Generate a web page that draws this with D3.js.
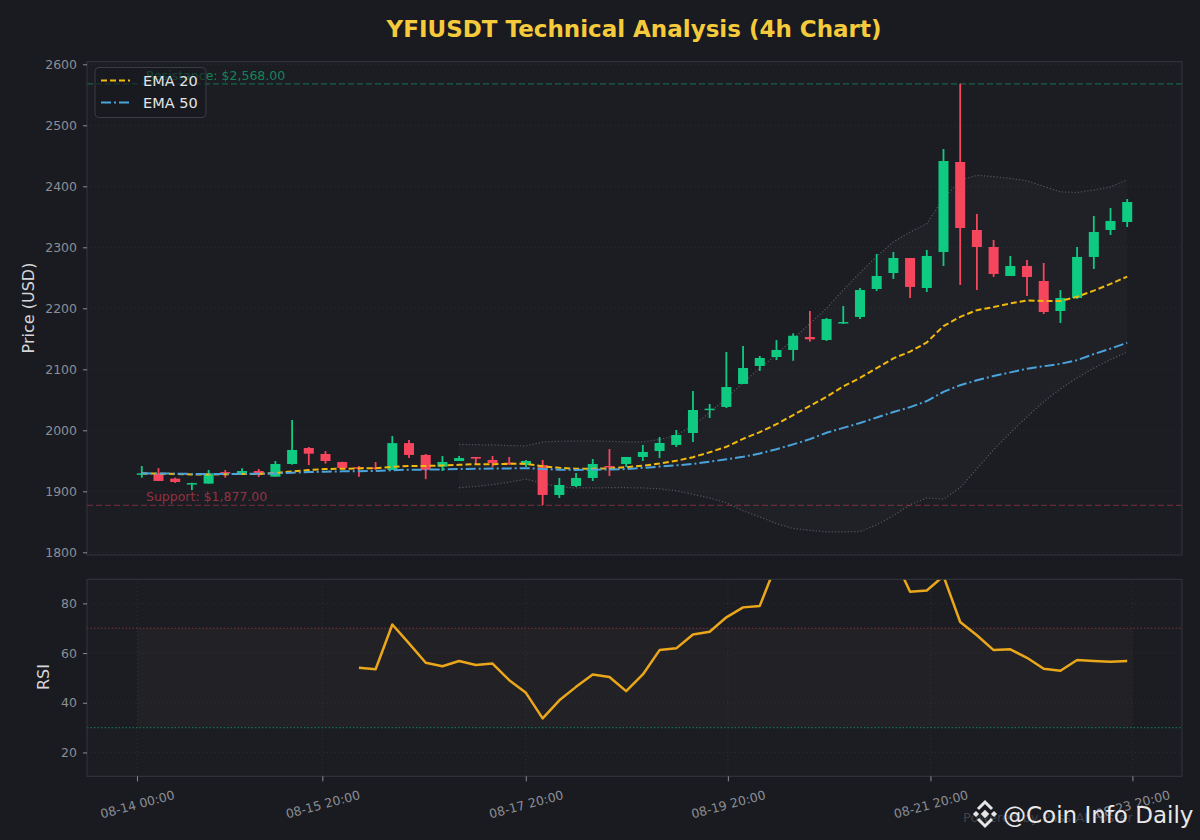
<!DOCTYPE html>
<html>
<head>
<meta charset="utf-8">
<script src="https://cdn.jsdelivr.net/npm/d3@7"></script>
<style>
  body { margin: 0; background: #1a1b20; }
  svg { display: block; font-family: "DejaVu Sans", sans-serif; }
</style>
</head>
<body>
<script>
// candle data (4h)
const opens  = [1929, 1929.5, 1920.8, 1912.5, 1912.6, 1931.5, 1926.8, 1933.3, 1924, 1944.8,
                1971, 1961.2, 1948, 1939.5, 1939, 1935, 1979, 1959.6, 1940.4, 1949.7,
                1956.3, 1951.4, 1947, 1943.2, 1943, 1894, 1908.7, 1921.9, 1941.5, 1944.8,
                1956.3, 1966.1, 1976, 1995.6, 2034.5, 2038.3, 2076, 2105.5, 2120.2, 2131.7,
                2153, 2148.1, 2176, 2185.8, 2231.7, 2257.9, 2282.5, 2233.3, 2292.3, 2439.9,
                2328.4, 2300.5, 2253, 2269.4, 2244.8, 2195.6, 2216.9, 2284.2, 2328.4, 2341.5];
const highs  = [1941.5, 1938, 1922.4, 1914, 1935, 1935, 1938, 1936.6, 1949.7, 2017,
                1972.7, 1966, 1948.5, 1941.5, 1948, 1990.7, 1984, 1961.2, 1957.9, 1957.9,
                1956.3, 1957.9, 1956.3, 1951.4, 1951.4, 1921.9, 1930, 1953, 1969.4, 1956.3,
                1976, 1989, 2000.5, 2064.5, 2043.2, 2128.4, 2138.3, 2121.9, 2148, 2159,
                2195.6, 2184.2, 2203.8, 2233.3, 2289, 2292.3, 2282.5, 2295.6, 2461.2, 2568,
                2354.6, 2312, 2285.8, 2279.2, 2274.3, 2230, 2300.5, 2351.4, 2364.5, 2379.2];
const lows   = [1922.4, 1917, 1913.7, 1902, 1912.6, 1922.4, 1926.8, 1923.5, 1924, 1943.7,
                1943, 1945.4, 1938, 1924, 1935, 1935, 1954.6, 1920, 1933.3, 1949.7,
                1944.8, 1939.9, 1943.2, 1939.9, 1877.6, 1889, 1907, 1917, 1925.1, 1939.9,
                1949.7, 1954.6, 1972.7, 1980.9, 2020.2, 2036.6, 2076, 2097.3, 2115.3, 2114,
                2145.4, 2146.4, 2174.3, 2182.5, 2228.4, 2248.1, 2217, 2226.8, 2269.4, 2238.3,
                2230, 2251.4, 2253, 2220.2, 2190.7, 2176, 2215.3, 2264.5, 2320.2, 2333.3];
const closes = [1929.5, 1917, 1915.3, 1913.5, 1929.5, 1930.5, 1933.3, 1926.8, 1944.8, 1967.8,
                1961.7, 1949.7, 1938.3, 1939, 1937.5, 1979, 1959.6, 1935, 1948.1, 1954.6,
                1953.6, 1946.4, 1945, 1949.7, 1894, 1910.4, 1921.9, 1944.8, 1939.9, 1956.3,
                1964.5, 1979.2, 1992.3, 2033.3, 2035.5, 2071, 2102.2, 2118.6, 2131.7, 2155,
                2149.2, 2182.5, 2177.5, 2230, 2253, 2282.5, 2235, 2285.8, 2441.5, 2331.7,
                2300.5, 2256.3, 2269.4, 2251.4, 2194, 2216.9, 2284.2, 2325.1, 2343.2, 2374.3];

const ema20 = [1929.5, 1929, 1928.5, 1927.5, 1927.5, 1928, 1928.5, 1928.5, 1930, 1932.5,
               1935, 1936.5, 1937, 1937.5, 1938, 1940, 1941.5, 1941.5, 1942.5, 1943.5,
               1944.5, 1944.5, 1945, 1945, 1941, 1938.5, 1937, 1937, 1937.5, 1939.5,
               1942, 1945.5, 1950, 1956, 1964, 1973, 1986, 1997, 2010, 2025,
               2040, 2055, 2072, 2086, 2102, 2118, 2129, 2144, 2171, 2186,
               2197, 2202, 2208, 2213, 2212, 2212, 2219, 2229, 2240, 2252];
const ema50 = [1929.5, 1929.3, 1929, 1928.5, 1928.5, 1928.5, 1928.7, 1928.7, 1929.3, 1930.5,
               1931.5, 1932.2, 1932.7, 1933, 1933.2, 1934.5, 1935.5, 1935.5, 1936, 1936.5,
               1937, 1937.3, 1937.6, 1938, 1936.5, 1935.5, 1935, 1935.5, 1935.7, 1936.5,
               1938.5, 1940.5, 1942.5, 1945, 1948.5, 1952.5, 1956.5, 1962, 1969, 1977,
               1985.5, 1996, 2004, 2012, 2021, 2030, 2038, 2048, 2063, 2074,
               2082, 2089, 2095, 2101, 2105, 2109, 2115, 2125, 2134, 2143.5];
const bbUpper = [null, null, null, null, null, null, null, null, null, null,
                 null, null, null, null, null, null, null, null, null, 1977,
                 1976.5, 1976, 1975, 1974.5, 1981, 1982, 1982.5, 1982.5, 1982, 1981,
                 1981, 1985, 1992, 2008, 2029, 2053, 2078, 2102, 2124, 2150,
                 2175, 2200, 2230, 2258, 2285, 2309, 2325, 2339, 2380, 2410,
                 2418, 2416, 2413, 2409, 2400, 2391, 2390, 2394, 2399, 2411];
const bbLower = [null, null, null, null, null, null, null, null, null, null,
                 null, null, null, null, null, null, null, null, null, 1906,
                 1908, 1911, 1915, 1920, 1913, 1907, 1905.5, 1905.5, 1906, 1906,
                 1905.5, 1904, 1901, 1895, 1889, 1881, 1868, 1858, 1847, 1839,
                 1836, 1833.5, 1833.5, 1834, 1845, 1860, 1878, 1889, 1887, 1906,
                 1937, 1968, 1996, 2022, 2047, 2068, 2086, 2102, 2116, 2128];
const rsi = [null, null, null, null, null, null, null, null, null, null,
             null, null, null, 54.1, 53.5, 71.5, 63.9, 56.1, 54.7, 56.8,
             55.2, 55.8, 49.1, 44, 33.7, 41, 46.4, 51.4, 50.4, 44.7,
             51.4, 61.2, 61.9, 67.5, 68.6, 74.4, 78.4, 79, 96, 95,
             94, 95, 95.5, 96, 96.5, 99, 84.7, 85.2, 91, 72.5,
             67.2, 61.2, 61.5, 58.1, 53.7, 52.9, 57.2, 56.8, 56.5, 56.8];

const xTickLabels = ['08-14 00:00', '08-15 20:00', '08-17 20:00', '08-19 20:00', '08-21 20:00', '08-23 20:00'];
const xTickPos = [-0.29, 10.81, 22.99, 35.09, 47.22, 59.31];
const priceTicks = [1800, 1900, 2000, 2100, 2200, 2300, 2400, 2500, 2600];
const rsiTicks = [20, 40, 60, 80];
const resistance = 2568;
const support = 1877;

const W = 1200, H = 840;
const green = '#0ecb81', red = '#f6465d';
const tickColor = '#8b8e96';

const svg = d3.select('body').append('svg').attr('width', W).attr('height', H);
svg.append('rect').attr('width', W).attr('height', H).attr('fill', '#1a1b20');

const idx = d3.range(closes.length);

const x = d3.scaleLinear().domain([-3.28, 62.28]).range([87, 1182]);
const yP = d3.scaleLinear().domain([1795.6, 2604.3]).range([555, 61.7]);
const yR = d3.scaleLinear().domain([10.4, 89.7]).range([776.3, 579.3]);

// panel backgrounds
const panels = [
  { id: 'pricePanel', y0: 61.7, y1: 555 },
  { id: 'rsiPanel', y0: 579.3, y1: 776.3 }
];
panels.forEach(p => {
  svg.append('rect').attr('x', 87).attr('y', p.y0)
     .attr('width', 1095).attr('height', p.y1 - p.y0)
     .attr('fill', '#1c1d22');
  svg.append('clipPath').attr('id', p.id)
     .append('rect').attr('x', 87).attr('y', p.y0)
     .attr('width', 1095).attr('height', p.y1 - p.y0);
});

const gridColor = 'rgba(255,255,255,0.09)';

// ---------- price panel ----------
const pg = svg.append('g').attr('clip-path', 'url(#pricePanel)');

pg.selectAll('line.hgrid').data(priceTicks).enter().append('line')
  .attr('x1', 87).attr('x2', 1182)
  .attr('y1', d => yP(d)).attr('y2', d => yP(d))
  .attr('stroke', gridColor).attr('stroke-width', 0.8).attr('stroke-dasharray', '1,3');

// bollinger fill + lines
const bbIdx = idx.filter(i => bbUpper[i] != null);
pg.append('path')
  .datum(bbIdx)
  .attr('d', d3.area().x(i => x(i)).y0(i => yP(bbLower[i])).y1(i => yP(bbUpper[i])))
  .attr('fill', 'rgba(150,150,160,0.045)');
[bbUpper, bbLower].forEach(arr => {
  pg.append('path')
    .datum(bbIdx)
    .attr('d', d3.line().x(i => x(i)).y(i => yP(arr[i])))
    .attr('fill', 'none').attr('stroke', '#55575e')
    .attr('stroke-width', 1.2).attr('stroke-dasharray', '1.2,2');
});

// resistance / support
pg.append('line').attr('x1', 87).attr('x2', 1182)
  .attr('y1', yP(resistance)).attr('y2', yP(resistance))
  .attr('stroke', 'rgba(14,203,129,0.4)').attr('stroke-width', 1.3).attr('stroke-dasharray', '6,3');
pg.append('line').attr('x1', 87).attr('x2', 1182)
  .attr('y1', yP(support)).attr('y2', yP(support))
  .attr('stroke', 'rgba(246,70,93,0.35)').attr('stroke-width', 1.3).attr('stroke-dasharray', '6,3');

svg.append('text').attr('x', 146).attr('y', yP(resistance) - 4)
  .attr('font-size', 12.5).attr('fill', 'rgba(14,203,129,0.6)')
  .text('Resistance: $2,568.00');
svg.append('text').attr('x', 146).attr('y', yP(support) - 4)
  .attr('font-size', 12.5).attr('fill', 'rgba(246,70,93,0.55)')
  .text('Support: $1,877.00');

// candles
const bodyW = x(0.3) - x(-0.3);
const candles = pg.selectAll('g.candle').data(idx).enter().append('g');
candles.append('line')
  .attr('x1', i => x(i)).attr('x2', i => x(i))
  .attr('y1', i => yP(highs[i])).attr('y2', i => yP(lows[i]))
  .attr('stroke', i => closes[i] >= opens[i] ? green : red)
  .attr('stroke-width', 1.8);
candles.append('rect')
  .attr('x', i => x(i) - bodyW / 2)
  .attr('width', bodyW)
  .attr('y', i => Math.min(yP(opens[i]), yP(closes[i])))
  .attr('height', i => Math.max(1.5, Math.abs(yP(opens[i]) - yP(closes[i]))))
  .attr('fill', i => closes[i] >= opens[i] ? green : red);

// EMAs
pg.append('path').datum(idx)
  .attr('d', d3.line().x(i => x(i)).y(i => yP(ema20[i])))
  .attr('fill', 'none').attr('stroke', '#f0b90b').attr('stroke-width', 2)
  .attr('stroke-dasharray', '6,3');
pg.append('path').datum(idx)
  .attr('d', d3.line().x(i => x(i)).y(i => yP(ema50[i])))
  .attr('fill', 'none').attr('stroke', '#4ba3dc').attr('stroke-width', 2)
  .attr('stroke-dasharray', '10,3,2,3');

// ---------- rsi panel ----------
const rg = svg.append('g').attr('clip-path', 'url(#rsiPanel)');
rg.append('rect')
  .attr('x', x(xTickPos[0])).attr('width', x(xTickPos[xTickPos.length - 1]) - x(xTickPos[0]))
  .attr('y', yR(70)).attr('height', yR(30) - yR(70))
  .attr('fill', 'rgba(120,100,80,0.07)');
rg.selectAll('line.hgrid').data(rsiTicks).enter().append('line')
  .attr('x1', 87).attr('x2', 1182)
  .attr('y1', d => yR(d)).attr('y2', d => yR(d))
  .attr('stroke', gridColor).attr('stroke-width', 0.8).attr('stroke-dasharray', '1,3');
rg.selectAll('line.vgrid').data(xTickPos).enter().append('line')
  .attr('x1', d => x(d)).attr('x2', d => x(d))
  .attr('y1', 579).attr('y2', 777)
  .attr('stroke', gridColor).attr('stroke-width', 0.8).attr('stroke-dasharray', '1,3');
rg.append('line').attr('x1', 87).attr('x2', 1182)
  .attr('y1', yR(70)).attr('y2', yR(70))
  .attr('stroke', 'rgba(246,70,93,0.45)').attr('stroke-width', 1.2).attr('stroke-dasharray', '1.5,2');
rg.append('line').attr('x1', 87).attr('x2', 1182)
  .attr('y1', yR(30)).attr('y2', yR(30))
  .attr('stroke', 'rgba(14,203,129,0.45)').attr('stroke-width', 1.2).attr('stroke-dasharray', '1.5,2');
rg.append('path').datum(idx)
  .attr('d', d3.line().defined(i => rsi[i] != null).x(i => x(i)).y(i => yR(rsi[i])))
  .attr('fill', 'none').attr('stroke', '#eaa71a').attr('stroke-width', 2.5)
  .attr('stroke-linejoin', 'round');

// panel borders
panels.forEach(p => {
  svg.append('rect').attr('x', 87).attr('y', p.y0)
     .attr('width', 1095).attr('height', p.y1 - p.y0)
     .attr('fill', 'none').attr('stroke', '#34373e').attr('stroke-width', 1);
});

// axes
function styleAxis(g) {
  g.select('.domain').remove();
  g.selectAll('.tick line').attr('stroke', tickColor).attr('stroke-width', 1);
  g.selectAll('.tick text').attr('fill', tickColor).attr('font-size', 12.5)
   .attr('font-family', '"DejaVu Sans", sans-serif');
}
svg.append('g').attr('transform', 'translate(87,0)')
  .call(d3.axisLeft(yP).tickValues(priceTicks).tickFormat(d3.format('d')).tickSize(4).tickPadding(6))
  .call(styleAxis);
svg.append('g').attr('transform', 'translate(87,0)')
  .call(d3.axisLeft(yR).tickValues(rsiTicks).tickFormat(d3.format('d')).tickSize(4).tickPadding(6))
  .call(styleAxis);
const xa = svg.append('g').attr('transform', 'translate(0,776.3)')
  .call(d3.axisBottom(x).tickValues(xTickPos).tickFormat((d, i) => xTickLabels[i]).tickSize(5).tickPadding(4))
  .call(styleAxis);
xa.selectAll('.tick text')
  .attr('text-anchor', 'middle').attr('dy', null).attr('y', null)
  .attr('transform', 'translate(0,28) rotate(-15)')
  .attr('dominant-baseline', 'central');

// axis titles
svg.append('text').attr('transform', 'translate(28,308) rotate(-90)')
  .attr('text-anchor', 'middle').attr('dominant-baseline', 'central')
  .attr('font-size', 16).attr('fill', '#d6d6d8').text('Price (USD)');
svg.append('text').attr('transform', 'translate(43,677) rotate(-90)')
  .attr('text-anchor', 'middle').attr('dominant-baseline', 'central')
  .attr('font-size', 16).attr('fill', '#d6d6d8').text('RSI');

// title
svg.append('text').attr('x', 634).attr('y', 37)
  .attr('text-anchor', 'middle').attr('font-size', 23).attr('font-weight', 'bold')
  .attr('fill', '#f5cb3b').text('YFIUSDT Technical Analysis (4h Chart)');

// legend
const lg = svg.append('g');
lg.append('rect').attr('x', 95).attr('y', 67.5).attr('width', 111).attr('height', 50).attr('rx', 4)
  .attr('fill', 'rgba(24,25,30,0.6)').attr('stroke', '#3a3d44');
lg.append('line').attr('x1', 101).attr('x2', 130).attr('y1', 80.5).attr('y2', 80.5)
  .attr('stroke', '#f0b90b').attr('stroke-width', 2).attr('stroke-dasharray', '6,3');
lg.append('line').attr('x1', 101).attr('x2', 130).attr('y1', 102.5).attr('y2', 102.5)
  .attr('stroke', '#4ba3dc').attr('stroke-width', 2).attr('stroke-dasharray', '10,3,2,3');
lg.append('text').attr('x', 143).attr('y', 86).attr('font-size', 14.5).attr('fill', '#e4e4e6').text('EMA 20');
lg.append('text').attr('x', 143).attr('y', 108).attr('font-size', 14.5).attr('fill', '#e4e4e6').text('EMA 50');

// watermark
svg.append('text').attr('x', 963).attr('y', 822).attr('font-size', 13)
  .attr('fill', 'rgba(140,140,150,0.35)').text('Powered by Pass AI Poster');
const logo = svg.append('g').attr('transform', 'translate(985,814)').attr('fill', '#e6e6e6');
logo.append('rect').attr('x', -3).attr('y', -3).attr('width', 6).attr('height', 6).attr('transform', 'rotate(45)');
logo.append('rect').attr('x', -2.2).attr('y', -2.2).attr('width', 4.4).attr('height', 4.4).attr('transform', 'translate(-9,0) rotate(45)');
logo.append('rect').attr('x', -2.2).attr('y', -2.2).attr('width', 4.4).attr('height', 4.4).attr('transform', 'translate(9,0) rotate(45)');
logo.append('path').attr('d', 'M-7,-5 L0,-12 L7,-5').attr('fill', 'none').attr('stroke', '#e6e6e6').attr('stroke-width', 3);
logo.append('path').attr('d', 'M-7,5 L0,12 L7,5').attr('fill', 'none').attr('stroke', '#e6e6e6').attr('stroke-width', 3);
svg.append('text').attr('x', 1003).attr('y', 823).attr('font-size', 23)
  .attr('fill', '#e8e8ea').text('@Coin Info Daily');
</script>
</body>
</html>
